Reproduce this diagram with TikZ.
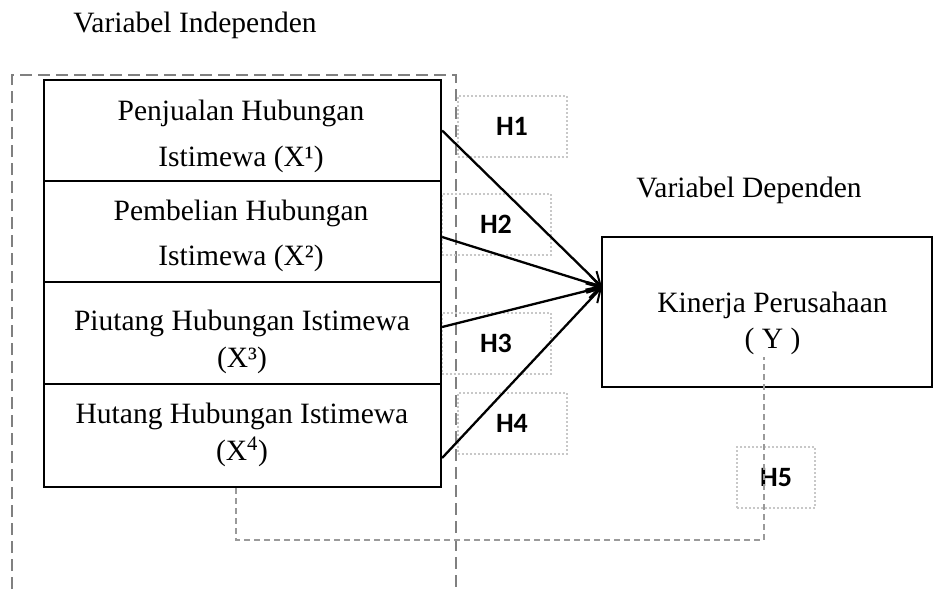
\documentclass[tikz,border=0pt]{standalone}
\usepackage{fontspec}
\setmainfont{Liberation Serif}
\newfontfamily\hfont{Carlito}
\usetikzlibrary{arrows.meta,calc}
\definecolor{outergrey}{HTML}{808080}
\definecolor{linkgrey}{HTML}{9A9A9A}
\definecolor{dotgrey}{HTML}{C8C8C8}
\tikzset{
  varbox/.style={draw=black, line width=2.2pt, minimum width=397pt, inner sep=0pt},
  ybox/.style={draw=black, line width=2.2pt, minimum width=330pt, minimum height=150pt, inner sep=0pt},
  vtext/.style={anchor=base, inner sep=0pt, font=\fontsize{29.5}{36}\selectfont},
  hbox/.style={draw=dotgrey, line width=2pt, dash pattern=on 2pt off 2pt, minimum width=109pt,
    minimum height=61pt, inner sep=0pt, font=\hfont\bfseries\fontsize{28}{30}\selectfont},
  outerline/.style={draw=outergrey, line width=2pt, dash pattern=on 12pt off 6pt},
  linkline/.style={draw=linkgrey, line width=1.1pt, dash pattern=on 6pt off 4pt},
  arr/.style={draw=black, line width=2.3pt, -{Straight Barb[length=13pt,width=15pt,line width=2pt]}},
}
\begin{document}
\begin{tikzpicture}[x=1pt,y=-1pt]
\useasboundingbox (0,0) rectangle (933,589);
% titles
\node[vtext] (ti) at (195,32) {Variabel Independen};
\node[vtext] (td) at (749,197) {Variabel Dependen};
% outer dashed frame
\coordinate (o1) at (12,589);
\coordinate (o2) at (12,75);
\coordinate (o3) at (456,75);
\coordinate (o4) at (456,589);
\draw[outerline] (o1) -- (o2) -- (o3) -- (o4);
% H boxes
\node[hbox] (h1) at (512,126) {H1};
\node[hbox] (h2) at (496,224.5) {H2};
\node[hbox] (h3) at (496,343) {H3};
\node[hbox] (h4) at (512,423) {H4};
\node[hbox, minimum width=78pt] (h5) at (776,477.5) {H5};
% variable boxes
\node[varbox, minimum height=101pt] (b1) at (242.5,130.5) {};
\node[varbox, minimum height=101pt] (b2) at (242.5,231.5) {};
\node[varbox, minimum height=102pt] (b3) at (242.5,333) {};
\node[varbox, minimum height=103pt] (b4) at (242.5,435.5) {};
\node[vtext] (b1a) at (241,120) {Penjualan Hubungan};
\node[vtext] (b1b) at (241,166) {Istimewa (X¹)};
\node[vtext] (b2a) at (241,220) {Pembelian Hubungan};
\node[vtext] (b2b) at (241,265) {Istimewa (X²)};
\node[vtext] (b3a) at (242,330) {Piutang Hubungan Istimewa};
\node[vtext] (b3b) at (242,367) {(X³)};
\node[vtext] (b4a) at (242,423) {Hutang Hubungan Istimewa};
\node[vtext] (b4b) at (242,460) {(X\textsuperscript{4})};
% dependent box
\node[ybox] (y) at (767,312) {};
\node[vtext] (ya) at (772.5,312) {Kinerja Perusahaan};
\node[vtext] (yb) at (772.5,348) {( Y )};
\coordinate (tip) at (602,287);
% arrows
\draw[arr] (b1.east) -- (tip);
\draw[arr] ($(b2.east)+(0,5.5)$) -- (tip);
\draw[arr] ($(b3.east)+(0,-6)$) -- (tip);
\draw[arr] ($(b4.east)+(0,22.5)$) -- (tip);
% H5 link
\coordinate (l1) at (236,540);
\coordinate (l2) at (764,540);
\coordinate (l3) at (764,357);
\draw[linkline] ($(b4.south)+(-6.5,0)$) -- (l1) -- (l2) -- (l3);
\end{tikzpicture}
\end{document}
